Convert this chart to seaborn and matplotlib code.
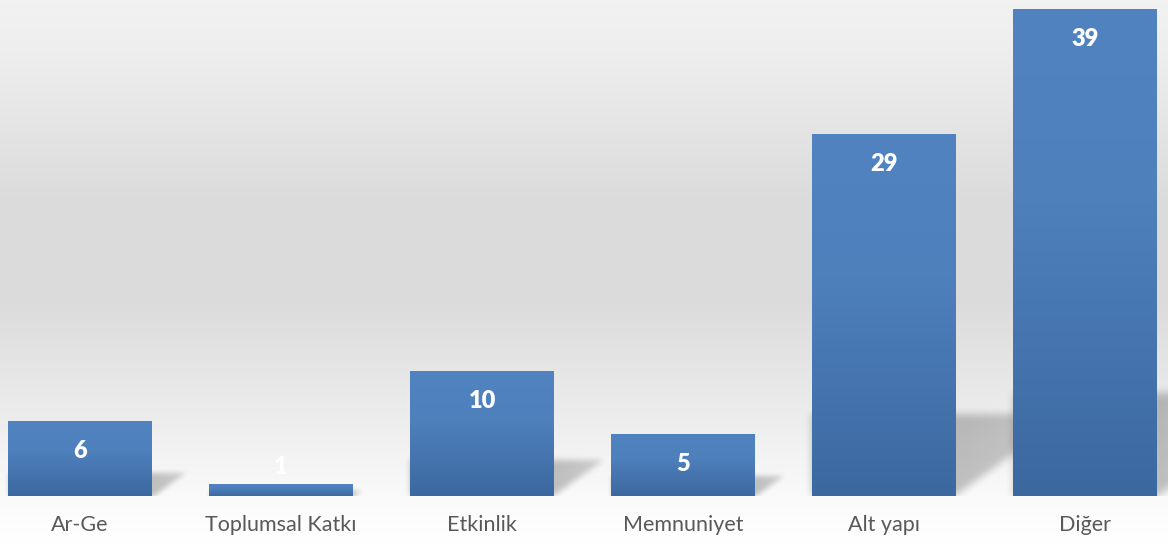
import numpy as np
import pandas as pd
import matplotlib
matplotlib.use('Agg')
import matplotlib.pyplot as plt
import seaborn as sns

# chart data
categories = ['Ar-Ge', 'Toplumsal Katkı', 'Etkinlik', 'Memnuniyet', 'Alt yapı', 'Diğer']
values = [6, 1, 10, 5, 29, 39]

df = pd.DataFrame({'kategori': categories, 'sayi': values})

sns.set_theme(style='white')
plt.rcParams['font.family'] = ['Lato', 'DejaVu Sans']

W, H = 1168, 543
fig = plt.figure(figsize=(W / 100, H / 100), dpi=100)

# grey vertical gradient behind the plot
bg = fig.add_axes([0, 0, 1, 1], zorder=0)
bg.axis('off')
stops_y = np.array([0, 60, 200, 300, 420, 496, 543])
stops_c = np.array([0.95, 0.93, 0.86, 0.86, 0.93, 0.98, 1.0])
shade = np.interp(np.arange(H), stops_y, stops_c)
bg_img = np.repeat(shade[:, None, None], 2, axis=1).repeat(3, axis=2)
bg.imshow(bg_img, aspect='auto', extent=[0, 1, 0, 1], interpolation='bilinear')

# main axes
base_px = 496
ax = fig.add_axes([0, (H - base_px) / H, 1, base_px / H], zorder=1)
ax.patch.set_alpha(0)

sns.barplot(data=df, x='kategori', y='sayi', color='#4F81BD', width=0.716,
            saturation=1, ax=ax, zorder=3)

px_x = 201.0
ytop = 39.7
px_y = base_px / ytop


def box_blur(a, k):
    kern = np.ones(k) / k
    a = np.apply_along_axis(lambda r: np.convolve(r, kern, mode='same'), 1, a)
    a = np.apply_along_axis(lambda c: np.convolve(c, kern, mode='same'), 0, a)
    return a


top_col = np.array([0x50, 0x83, 0xC0]) / 255
mid_col = np.array([0x4E, 0x80, 0xBC]) / 255
bot_col = np.array([0x3C, 0x68, 0xA0]) / 255

for p in ax.patches:
    x0, w, h = p.get_x(), p.get_width(), p.get_height()
    p.set_edgecolor('none')

    # blurred wedge shadow to the right of the bar
    hp = h * px_y
    sh = 24 * (hp / 75) ** 0.78
    slope = 0.72
    ln = sh / slope
    margin = 18
    bw = w * px_x
    wpx = int(bw + ln + 2 * margin)
    hpx = int(sh + 2 * margin)
    alpha = np.zeros((hpx, wpx))
    for r in range(hpx):
        v = (hpx - 1 - r) - margin  # height above baseline in px
        if 0 <= v <= sh:
            c1 = int(margin + bw + v / slope)
            alpha[r, margin:c1] = 0.23
    cols = np.arange(wpx) - margin - bw
    alpha *= np.clip(1 - 0.3 * cols / max(ln, 1), 0.5, 1)
    k = int(6 + sh * 0.04)
    alpha = box_blur(box_blur(alpha, k), k)
    sh_img = np.zeros((hpx, wpx, 4))
    sh_img[..., 3] = alpha
    ax.imshow(sh_img, aspect='auto', interpolation='bilinear', zorder=2,
              extent=[x0 - margin / px_x, x0 + (wpx - margin) / px_x,
                      -margin / px_y, (hpx - margin) / px_y])

    # vertical gradient fill of the bar
    t = np.linspace(0, 1, 100)[:, None]
    grad = np.where(t < 0.4,
                    top_col + (mid_col - top_col) * (t / 0.4),
                    mid_col + (bot_col - mid_col) * ((t - 0.4) / 0.6))
    grad = grad[:, None, :].repeat(2, axis=1)
    im = ax.imshow(grad, aspect='auto', extent=[x0, x0 + w, 0, h],
                   interpolation='bilinear', zorder=4)
    im.set_clip_path(p)

# value labels inside the top of each bar
for i, v in enumerate(values):
    ypos = max(v - 30 / px_y, 29 / px_y)
    ax.text(i, ypos, str(v), ha='center', va='center', color='white',
            fontweight='heavy', fontsize=17, zorder=5)

ax.set_xlim(-80 / px_x, 5 + 83 / px_x)
ax.set_ylim(0, ytop)
ax.set_xlabel('')
ax.set_ylabel('')
ax.set_yticks([])
ax.set_xticks(range(len(categories)))
ax.set_xticklabels(categories, fontsize=15.5, color='#595959')
ax.tick_params(axis='x', length=0, pad=14)
for s in ax.spines.values():
    s.set_visible(False)

fig.savefig('out.png', dpi=100)
